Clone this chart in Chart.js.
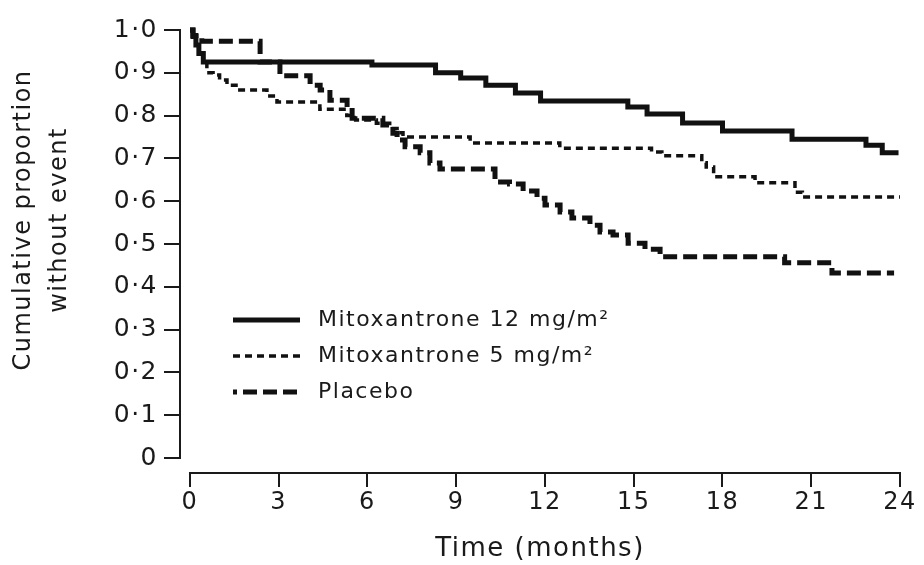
<!DOCTYPE html>
<html>
<head>
<meta charset="utf-8">
<script src="https://cdn.jsdelivr.net/npm/chart.js@4"></script>
<style>
    body { margin: 0; background: #fff; }
</style>
</head>
<body>
<canvas id="km-chart" width="924" height="565"></canvas>
<script>
const seriesNames = ['Mitoxantrone 12 mg/m²', 'Mitoxantrone 5 mg/m²', 'Placebo'];

// Kaplan-Meier steps, month where the level starts -> proportion without event
const mito12Months = [0, 0.1, 0.2, 0.3, 0.45, 6.15, 8.3, 9.15, 10.0, 11.0, 11.85, 14.8, 15.45, 16.65, 18.0, 20.35, 22.85, 23.4, 23.95];
const mito12Values = [1.0, 0.985, 0.965, 0.945, 0.925, 0.918, 0.900, 0.888, 0.871, 0.853, 0.834, 0.820, 0.804, 0.783, 0.764, 0.745, 0.731, 0.713, 0.713];

const mito5Months = [0, 0.1, 0.2, 0.3, 0.45, 0.57, 0.78, 1.0, 1.25, 1.62, 2.6, 2.94, 4.39, 5.3, 5.6, 6.3, 6.75, 7.0, 7.2, 9.47, 12.5, 15.6, 15.95, 17.3, 17.45, 17.7, 19.1, 20.45, 20.7, 24];
const mito5Values = [1.0, 0.985, 0.965, 0.945, 0.925, 0.90, 0.895, 0.883, 0.871, 0.86, 0.846, 0.832, 0.815, 0.80, 0.79, 0.782, 0.77, 0.76, 0.75, 0.736, 0.724, 0.715, 0.706, 0.69, 0.68, 0.657, 0.643, 0.621, 0.61, 0.61];

const placeboMonths = [0, 0.1, 0.4, 2.37, 3.04, 4.06, 4.4, 4.73, 5.31, 5.48, 6.52, 6.86, 7.0, 7.27, 7.78, 8.11, 8.45, 10.31, 10.8, 11.26, 11.73, 12.0, 12.51, 12.91, 13.52, 13.86, 14.3, 14.81, 15.38, 15.89, 20.1, 21.7, 23.8];
const placeboValues = [1.0, 0.987, 0.974, 0.925, 0.893, 0.871, 0.86, 0.836, 0.82, 0.794, 0.778, 0.759, 0.743, 0.727, 0.713, 0.689, 0.675, 0.645, 0.64, 0.624, 0.607, 0.591, 0.575, 0.561, 0.544, 0.528, 0.521, 0.502, 0.488, 0.47, 0.456, 0.432, 0.432];

const monthTicks = [0, 3, 6, 9, 12, 15, 18, 21, 24];
const proportionTicks = [0, 0.1, 0.2, 0.3, 0.4, 0.5, 0.6, 0.7, 0.8, 0.9, 1.0];
const proportionLabels = ['0', '0·1', '0·2', '0·3', '0·4', '0·5', '0·6', '0·7', '0·8', '0·9', '1·0'];

const yTitleLines = ['Cumulative proportion', 'without event'];
const xTitle = 'Time (months)';

const ink = '#1a1a1a';
const fontFamily = '"DejaVu Sans", sans-serif';

function toPoints(months, values) {
    return months.map((m, i) => ({ x: m, y: values[i] }));
}

function makeDataset(label, months, values, width, dash) {
    return {
        label: label,
        data: toPoints(months, values),
        borderColor: '#111',
        borderWidth: width,
        borderDash: dash,
        borderCapStyle: 'butt',
        stepped: 'before', // hold the previous level, then drop
        pointRadius: 0,
        fill: false,
        clip: 8
    };
}

// axis lines drawn from the scales, offset like the original
const axisLines = {
    id: 'axisLines',
    beforeDraw(chart) {
        chart.ctx.letterSpacing = '1.5px';
    },
    beforeDatasetsDraw(chart) {
        const { ctx, chartArea, scales } = chart;
        ctx.save();
        ctx.strokeStyle = ink;
        ctx.lineWidth = 2;
        ctx.beginPath();
        ctx.moveTo(scales.x.getPixelForValue(monthTicks[0]) - 1, chartArea.bottom);
        ctx.lineTo(scales.x.getPixelForValue(monthTicks[monthTicks.length - 1]) + 1, chartArea.bottom);
        ctx.moveTo(chartArea.left, scales.y.getPixelForValue(proportionTicks[0]) + 1);
        ctx.lineTo(chartArea.left, scales.y.getPixelForValue(proportionTicks[proportionTicks.length - 1]) - 1);
        ctx.stroke();

        // rotated two-line y title
        ctx.fillStyle = ink;
        ctx.font = '24px ' + fontFamily;
        ctx.textAlign = 'center';
        ctx.textBaseline = 'middle';
        ctx.translate(24, 220);
        ctx.rotate(-Math.PI / 2);
        yTitleLines.forEach((line, i) => ctx.fillText(line, 0, i * 36));
        ctx.restore();
    }
};

// legend inside the plot
const insideLegend = {
    id: 'insideLegend',
    afterDatasetsDraw(chart) {
        const ctx = chart.ctx;
        const rows = [320, 356, 392];
        ctx.save();
        chart.data.datasets.forEach((ds, i) => {
            ctx.strokeStyle = ds.borderColor;
            ctx.lineWidth = ds.borderWidth;
            ctx.setLineDash(ds.borderDash || []);
            ctx.lineDashOffset = i === 2 ? 10 : 0;
            ctx.beginPath();
            ctx.moveTo(233, rows[i]);
            ctx.lineTo(300, rows[i]);
            ctx.stroke();
            ctx.setLineDash([]);
            ctx.fillStyle = ink;
            ctx.font = '22px ' + fontFamily;
            ctx.textAlign = 'left';
            ctx.textBaseline = 'middle';
            ctx.fillText(ds.label, 318, rows[i]);
        });
        ctx.restore();
    }
};

const config = {
    type: 'line',
    data: {
        datasets: [
            makeDataset(seriesNames[0], mito12Months, mito12Values, 5, []),
            makeDataset(seriesNames[1], mito5Months, mito5Values, 3.5, [7, 5]),
            makeDataset(seriesNames[2], placeboMonths, placeboValues, 5, [14, 6])
        ]
    },
    options: {
        responsive: false,
        animation: false,
        layout: { padding: { top: 30, right: 24, left: 0, bottom: 0 } },
        plugins: {
            legend: { display: false },
            tooltip: { enabled: false }
        },
        scales: {
            x: {
                type: 'linear',
                min: -0.338,
                max: 24,
                afterFit: (scale) => { scale.height = 92; },
                afterBuildTicks: (scale) => { scale.ticks = monthTicks.map(v => ({ value: v })); },
                border: { display: false },
                grid: { drawOnChartArea: false, drawTicks: true, tickLength: 14, color: ink, lineWidth: 2 },
                ticks: {
                    color: ink,
                    font: { family: fontFamily, size: 24 },
                    padding: 1,
                    maxRotation: 0,
                    autoSkip: false
                },
                title: {
                    display: true,
                    text: xTitle,
                    color: ink,
                    font: { family: fontFamily, size: 26 },
                    padding: { top: 0, bottom: 0 }
                }
            },
            y: {
                min: -0.035,
                max: 1.0,
                afterFit: (scale) => { scale.width = 180; },
                afterBuildTicks: (scale) => { scale.ticks = proportionTicks.map(v => ({ value: v })); },
                border: { display: false },
                grid: { drawOnChartArea: false, drawTicks: true, tickLength: 16, color: ink, lineWidth: 2 },
                ticks: {
                    color: ink,
                    font: { family: fontFamily, size: 25 },
                    padding: 6,
                    callback: (value, index) => proportionLabels[index]
                }
            }
        }
    },
    plugins: [axisLines, insideLegend]
};

new Chart(document.getElementById('km-chart'), config);
</script>
</body>
</html>
